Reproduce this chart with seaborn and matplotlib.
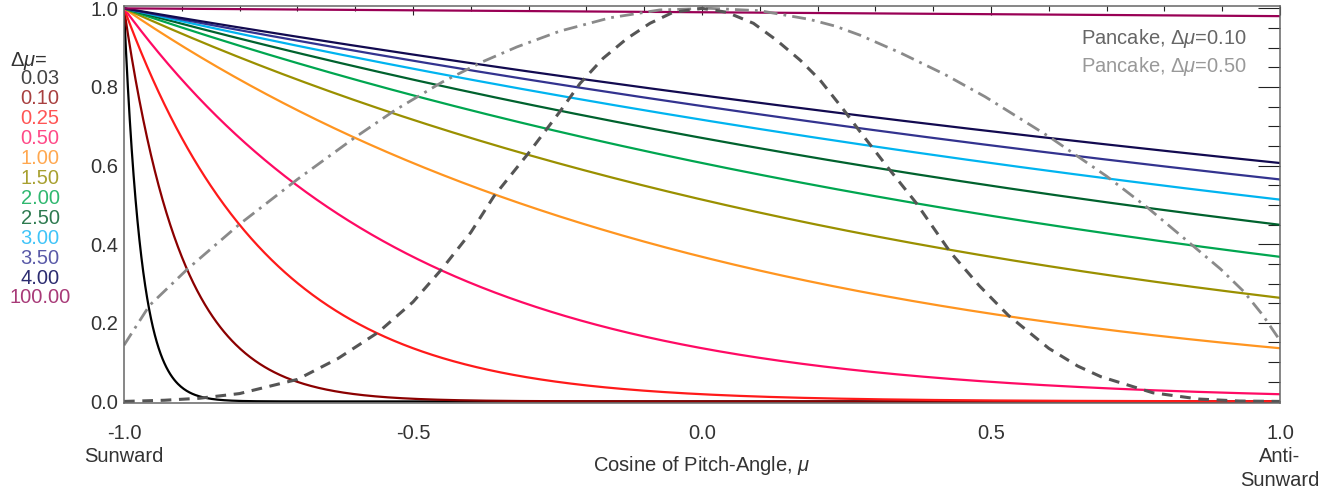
import numpy as np
import pandas as pd
import matplotlib
matplotlib.use("Agg")
import matplotlib.pyplot as plt
from matplotlib.ticker import MultipleLocator
import seaborn as sns

# e-folding widths shown in the legend
delta_mu = [0.03, 0.10, 0.25, 0.50, 1.00, 1.50, 2.00, 2.50, 3.00, 3.50, 4.00, 100.00]
delta_labels = ["0.03", "0.10", "0.25", "0.50", "1.00", "1.50", "2.00",
                "2.50", "3.00", "3.50", "4.00", "100.00"]
line_colors = ["#000000", "#8b0000", "#ff1a1a", "#ff0a64", "#ff9520", "#9a9000",
               "#00a650", "#00622e", "#00b4f0", "#33338f", "#120a50", "#990055"]
label_colors = ["#444444", "#a84040", "#ff5555", "#ff4a88", "#ffa850", "#a8a030",
                "#30b870", "#2e7a50", "#40c4f8", "#5a5aa8", "#2c2c70", "#a83a78"]

# pancake distributions
pancake_010_mu = [-1.0, -0.93, -0.87, -0.80, -0.70, -0.63, -0.56, -0.50, -0.45, -0.40,
                  -0.36, -0.30, -0.246, -0.211, -0.171, -0.13, -0.09, -0.05, 0.0, 0.043,
                  0.089, 0.129, 0.17, 0.204, 0.245, 0.271, 0.32, 0.37, 0.43, 0.48,
                  0.53, 0.60, 0.65, 0.69, 0.78, 0.86, 0.93, 1.0]
pancake_010_val = [0.0, 0.003, 0.008, 0.02, 0.056, 0.109, 0.176, 0.253, 0.337, 0.43,
                   0.522, 0.632, 0.737, 0.809, 0.873, 0.923, 0.962, 0.99, 1.0, 0.99,
                   0.962, 0.919, 0.868, 0.818, 0.742, 0.691, 0.598, 0.506, 0.379, 0.294,
                   0.219, 0.135, 0.09, 0.063, 0.022, 0.006, 0.001, 0.0]
pancake_050_mu = [-1.0, -0.956, -0.89, -0.80, -0.70, -0.60, -0.53, -0.45, -0.38, -0.32,
                  -0.246, -0.159, -0.073, 0.014, 0.10, 0.186, 0.23, 0.273, 0.343, 0.42,
                  0.49, 0.60, 0.70, 0.77, 0.83, 0.897, 0.937, 0.97, 1.0]
pancake_050_val = [0.143, 0.244, 0.337, 0.451, 0.565, 0.672, 0.742, 0.812, 0.864, 0.902,
                   0.942, 0.976, 0.996, 1.0, 0.994, 0.972, 0.955, 0.932, 0.887, 0.832,
                   0.775, 0.674, 0.573, 0.494, 0.42, 0.337, 0.28, 0.22, 0.155]

x_ticks = [-1.0, -0.5, 0.0, 0.5, 1.0]
x_ticklabels = ["-1.0\nSunward", "-0.5", "0.0", "0.5", "1.0\nAnti-\nSunward"]
y_ticks = [0.0, 0.2, 0.4, 0.6, 0.8, 1.0]

fontsize = 14.5
text_color = "#333333"


def main() -> None:
    sns.set_style("white")
    plt.rcParams["font.family"] = ["Liberation Sans", "DejaVu Sans"]
    plt.rcParams["mathtext.fontset"] = "custom"
    plt.rcParams["mathtext.rm"] = "Liberation Sans"
    plt.rcParams["mathtext.it"] = "Liberation Sans:italic"

    fig = plt.figure(figsize=(13.35, 4.91), dpi=100)
    ax = fig.add_axes([124 / 1335, 1 - 403 / 491, (1280 - 124) / 1335, 397 / 491])

    mu = np.linspace(-1.0, 1.0, 1201)
    frames = []
    for d, lab in zip(delta_mu, delta_labels):
        frames.append(pd.DataFrame({"mu": mu, "f": np.exp(-(mu + 1.0) / d), "dmu": lab}))
    df = pd.concat(frames, ignore_index=True)

    sns.lineplot(data=df, x="mu", y="f", hue="dmu", hue_order=delta_labels,
                 palette=line_colors, linewidth=1.6, legend=False, ax=ax, sort=False)

    sns.lineplot(x=pancake_050_mu, y=pancake_050_val, color="#8a8a8a", linewidth=2.0,
                 linestyle=(0, (5, 2.2, 1, 2.2)), ax=ax, sort=False)
    sns.lineplot(x=pancake_010_mu, y=pancake_010_val, color="#555555", linewidth=2.2,
                 linestyle=(0, (3.5, 2.5)), ax=ax, sort=False)

    ax.set_xlim(-1.0, 1.0)
    ax.set_ylim(-0.004, 1.006)
    ax.set_xticks(x_ticks)
    ax.set_xticklabels(x_ticklabels)
    for lbl in ax.get_xticklabels():
        lbl.set_linespacing(1.3)
    ax.set_yticks(y_ticks)
    ax.set_yticklabels([f"{v:.1f}" for v in y_ticks])
    ax.xaxis.set_minor_locator(MultipleLocator(0.1))
    ax.yaxis.set_minor_locator(MultipleLocator(0.05))

    ax.tick_params(axis="both", which="both", direction="in", top=True, right=True,
                   colors="#222222", labelcolor=text_color, labelsize=fontsize, width=0.8)
    ax.tick_params(axis="y", which="major", length=16, pad=4)
    ax.tick_params(axis="y", which="minor", length=8.5)
    ax.tick_params(axis="x", which="major", length=6.5, pad=15)
    ax.tick_params(axis="x", which="minor", length=3.3)
    for spine in ax.spines.values():
        spine.set_color("#666666")
        spine.set_linewidth(1.1)

    ax.set_xlabel(r"Cosine of Pitch-Angle, $\mu$", fontsize=fontsize, color=text_color,
                  labelpad=-26)
    ax.set_ylabel("")

    # legend as coloured text on the left
    fig.text(10 / 1335, 1 - 61 / 491, r"$\Delta\mu$=", fontsize=fontsize,
             color=text_color, ha="left", va="center")
    for i, (lab, col) in enumerate(zip(delta_labels, label_colors)):
        fig.text(40 / 1335, 1 - (79 + 19.9 * i) / 491, lab, fontsize=fontsize,
                 color=col, ha="center", va="center")

    fig.text(1247 / 1335, 1 - 38 / 491, r"Pancake, $\Delta\mu$=0.10", fontsize=fontsize,
             color="#666666", ha="right", va="center")
    fig.text(1247 / 1335, 1 - 66 / 491, r"Pancake, $\Delta\mu$=0.50", fontsize=fontsize,
             color="#999999", ha="right", va="center")

    fig.savefig("out.png", dpi=100)
    plt.close(fig)


if __name__ == "__main__":
    main()
